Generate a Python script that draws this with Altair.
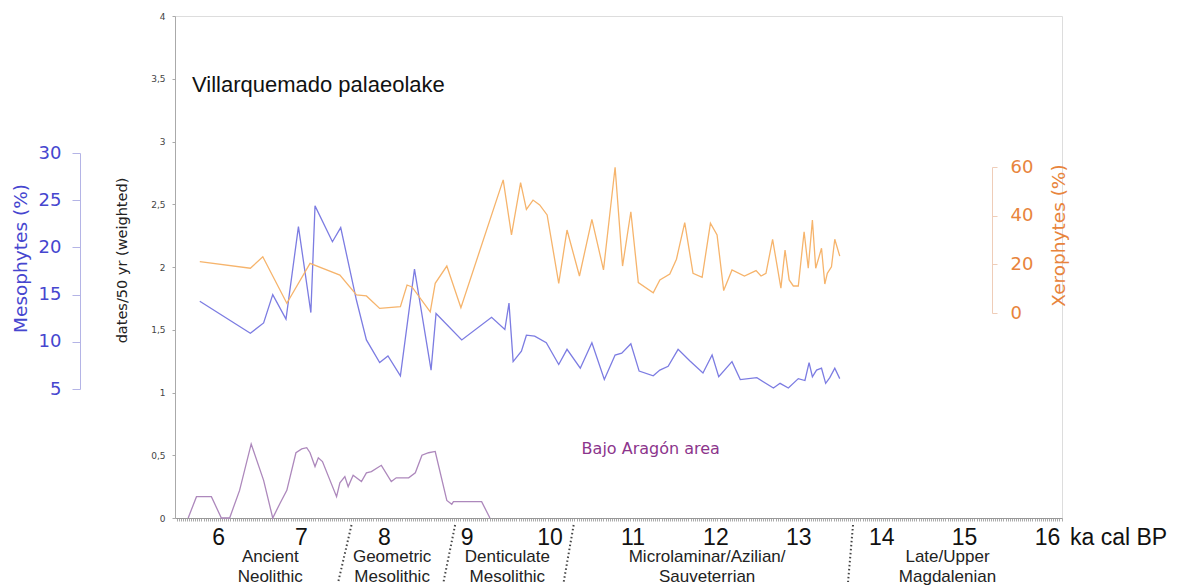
import altair as alt
import pandas as pd

# Villarquemado palaeolake pollen record, age in ka cal BP
meso_age = [5.78, 6.39, 6.55, 6.66, 6.82, 6.97, 7.12, 7.17, 7.38, 7.48, 7.67, 7.79,
            7.95, 8.05, 8.20, 8.37, 8.57, 8.63, 8.94, 9.30, 9.46, 9.51, 9.56, 9.66,
            9.72, 9.82, 9.96, 10.11, 10.21, 10.37, 10.51, 10.66, 10.79, 10.87, 10.98,
            11.08, 11.25, 11.33, 11.43, 11.55, 11.69, 11.85, 11.96, 12.04, 12.20,
            12.30, 12.50, 12.70, 12.78, 12.88, 13.00, 13.08, 13.13, 13.17, 13.22,
            13.28, 13.33, 13.38, 13.44, 13.50]
meso_pct = [14.3, 10.9, 12.0, 15.0, 12.4, 22.2, 13.1, 24.4, 20.6, 22.1, 14.4, 10.2,
            7.8, 8.5, 6.4, 17.7, 7.0, 13.0, 10.2, 12.6, 11.3, 14.1, 7.9, 9.0,
            10.7, 10.6, 9.9, 7.6, 9.2, 7.2, 9.9, 6.0, 8.6, 8.8, 9.8,
            6.9, 6.4, 7.0, 7.4, 9.2, 8.0, 6.7, 8.6, 6.3, 7.9,
            6.0, 6.2, 5.1, 5.6, 5.1, 6.1, 5.9, 7.8, 6.3, 7.0,
            7.2, 5.6, 6.2, 7.2, 6.1]

xero_age = [5.78, 6.39, 6.54, 6.83, 7.11, 7.47, 7.67, 7.79, 7.95, 8.20, 8.28, 8.34,
            8.56, 8.62, 8.76, 8.93, 9.44, 9.54, 9.65, 9.72, 9.80, 9.88, 9.97, 10.11,
            10.21, 10.36, 10.51, 10.65, 10.79, 10.88, 10.98, 11.07, 11.25, 11.33,
            11.45, 11.53, 11.63, 11.73, 11.84, 11.94, 12.02, 12.10, 12.20, 12.35,
            12.49, 12.55, 12.61, 12.69, 12.79, 12.84, 12.89, 12.94, 13.00, 13.07,
            13.12, 13.17, 13.21, 13.28, 13.32, 13.35, 13.40, 13.44, 13.50]
xero_pct = [21.1, 18.4, 23.1, 4.0, 20.4, 15.6, 7.4, 7.0, 1.9, 2.6, 11.5, 10.7,
            0.5, 12.2, 19.3, 2.2, 54.7, 32.1, 53.6, 42.6, 46.4, 44.4, 40.3, 12.2,
            34.1, 15.2, 38.5, 17.7, 59.9, 19.3, 41.6, 12.5, 8.3, 13.6,
            16.0, 22.1, 37.1, 16.3, 14.7, 36.9, 32.1, 9.2, 17.7, 15.2,
            17.4, 15.2, 16.3, 30.3, 10.2, 25.9, 13.6, 11.1, 11.1, 33.4,
            18.4, 38.2, 18.4, 26.6, 11.9, 16.3, 19.0, 30.3, 23.4]

# Bajo Aragón summed radiocarbon dates
dates_age = [5.64, 5.74, 5.92, 6.04, 6.14, 6.26, 6.40, 6.55, 6.66, 6.75, 6.83, 6.94,
             7.01, 7.07, 7.11, 7.17, 7.21, 7.26, 7.43, 7.47, 7.53, 7.57, 7.63, 7.73,
             7.79, 7.85, 7.97, 8.09, 8.15, 8.30, 8.38, 8.46, 8.54, 8.62, 8.76, 8.82,
             8.84, 9.18, 9.28]
dates_val = [0, 0.17, 0.17, 0, 0, 0.22, 0.59, 0.30, 0, 0.12, 0.22, 0.52,
             0.55, 0.56, 0.52, 0.41, 0.48, 0.45, 0.17, 0.28, 0.33, 0.25, 0.34, 0.29,
             0.36, 0.37, 0.42, 0.29, 0.32, 0.32, 0.36, 0.50, 0.52, 0.53, 0.14, 0.11,
             0.13, 0.13, 0]

# Cultural periods and their (slanted) boundaries
period_names = ["Ancient\nNeolithic", "Geometric\nMesolithic", "Denticulate\nMesolithic",
                "Microlaminar/Azilian/\nSauveterrian", "Late/Upper\nMagdalenian"]
period_mid = [6.63, 8.10, 9.49, 11.90, 14.80]
bound_top = [7.61, 8.86, 10.29, 13.66]
bound_bottom = [7.45, 8.72, 10.17, 13.60]

dates_ticks = [0, 0.5, 1, 1.5, 2, 2.5, 3, 3.5, 4]
meso_ticks = [5, 10, 15, 20, 25, 30]
xero_ticks = [0, 20, 40, 60]

W, H = 887, 502
BLUE_TXT, BLUE_LINE, BLUE_AX = "#4646cf", "#7c7ce2", "#b4b4e6"
ORANGE_TXT, ORANGE_LINE, ORANGE_AX = "#e8843c", "#f6b46c", "#efcdb8"
PURPLE_TXT, PURPLE_LINE = "#8c358c", "#ad88bc"

meso_df = pd.DataFrame({"age": meso_age, "pct": meso_pct})
xero_df = pd.DataFrame({"age": xero_age, "pct": xero_pct})
dates_df = pd.DataFrame({"age": dates_age, "val": dates_val})
period_df = pd.DataFrame({"name": period_names, "age": period_mid})
bound_df = pd.DataFrame({"age": bound_top, "bottom": bound_bottom})

# ruler-like x axis: fine ticks every 25 yr, labels on whole ka
fine_ticks = [round(5.5 + 0.025 * i, 3) for i in range(428)]
x_scale = alt.Scale(domain=[5.481, 16.181], nice=False, zero=False)
x_axis = alt.Axis(
    values=fine_ticks, title=None, grid=False,
    labelExpr="abs(datum.value - round(datum.value)) < 0.001 ? toString(round(datum.value)) : ''",
    labelOverlap=False, labelFlush=False, labelFontSize=23, labelColor="#111",
    labelFont="Liberation Sans", labelPadding=5,
    tickSize=3, tickColor="#aaaaaa", tickWidth=1, domainColor="#999999",
)
X = alt.X("age:Q", scale=x_scale, axis=x_axis)

dates_line = alt.Chart(dates_df).mark_line(color=PURPLE_LINE, strokeWidth=1.3).encode(
    x=X,
    y=alt.Y("val:Q", scale=alt.Scale(domain=[0, 4], nice=False),
            axis=alt.Axis(orient="left", values=dates_ticks, grid=False,
                          labelExpr="replace(toString(datum.value), '.', ',')",
                          labelFontSize=9, labelFont="DejaVu Sans", labelColor="#444",
                          labelPadding=7, tickSize=3, tickColor="#aaaaaa",
                          domainColor="#aaaaaa",
                          title="dates/50 yr (weighted)", titleFont="DejaVu Sans",
                          titleFontSize=14.5, titleFontWeight="normal", titleColor="#222",
                          titleAngle=270, titleX=-53, titleY=244,
                          titleAlign="center", titleBaseline="middle")),
)

meso_line = alt.Chart(meso_df).mark_line(color=BLUE_LINE, strokeWidth=1.3).encode(
    x=X,
    y=alt.Y("pct:Q", scale=alt.Scale(domain=[5, 30], range=[373, 137], nice=False, zero=False),
            axis=alt.Axis(orient="left", offset=95, values=meso_ticks, grid=False,
                          labelFontSize=18, labelFont="DejaVu Sans", labelColor=BLUE_TXT,
                          labelPadding=11, tickSize=8, tickColor=BLUE_AX, domainColor=BLUE_AX,
                          title="Mesophytes (%)", titleFont="DejaVu Sans",
                          titleFontSize=18.5, titleFontWeight="normal", titleColor=BLUE_TXT,
                          titleAngle=270, titleX=-60, titleY=242,
                          titleAlign="center", titleBaseline="middle")),
)

xero_line = alt.Chart(xero_df).mark_line(color=ORANGE_LINE, strokeWidth=1.3).encode(
    x=X,
    y=alt.Y("pct:Q", scale=alt.Scale(domain=[0, 60], range=[297, 151], nice=False),
            axis=alt.Axis(orient="right", offset=-70, values=xero_ticks, grid=False,
                          labelFontSize=18, labelFont="DejaVu Sans", labelColor=ORANGE_TXT,
                          labelPadding=13, tickSize=5, tickColor=ORANGE_AX, domainColor=ORANGE_AX,
                          title="Xerophytes (%)", titleFont="DejaVu Sans",
                          titleFontSize=18.5, titleFontWeight="normal", titleColor=ORANGE_TXT,
                          titleAngle=270, titleX=66, titleY=219,
                          titleAlign="center", titleBaseline="middle")),
)

period_text = alt.Chart(period_df).mark_text(
    fontSize=17, font="Liberation Sans", color="#222", align="center",
    baseline="top", lineBreak="\n", lineHeight=19.5,
).encode(x=X, y=alt.value(533), text="name:N")

bound_rules = alt.Chart(bound_df).mark_rule(
    color="#444", strokeWidth=2, strokeDash=[1.5, 2.5],
).encode(x=X, x2="bottom:Q", y=alt.value(509), y2=alt.value(566))

unit_text = alt.Chart(pd.DataFrame({"age": [16]})).mark_text(
    text="ka cal BP", fontSize=23, font="Liberation Sans", color="#111",
    align="left", baseline="alphabetic", dx=23,
).encode(x=X, y=alt.value(529))

title_text = alt.Chart(pd.DataFrame({"t": ["Villarquemado palaeolake"]})).mark_text(
    fontSize=22, font="Liberation Sans", color="#111",
    align="left", baseline="alphabetic",
).encode(x=alt.value(17), y=alt.value(76), text="t:N")

area_text = alt.Chart(pd.DataFrame({"t": ["Bajo Aragón area"], "age": [11.22]})).mark_text(
    fontSize=16, font="DejaVu Sans", color=PURPLE_TXT, align="center", baseline="middle",
).encode(x=X, y=alt.value(433), text="t:N")

chart = alt.layer(
    dates_line, meso_line, xero_line, period_text, bound_rules, unit_text, title_text, area_text
).resolve_scale(y="independent").resolve_axis(y="independent").properties(
    width=W, height=H,
    padding={"left": 175, "top": 16, "right": 129, "bottom": 68},
    autosize=alt.AutoSizeParams(type="none"),
).configure_view(stroke=None).configure(background="white")

chart.save("out.html", embed_options={"renderer": "svg", "actions": False})
